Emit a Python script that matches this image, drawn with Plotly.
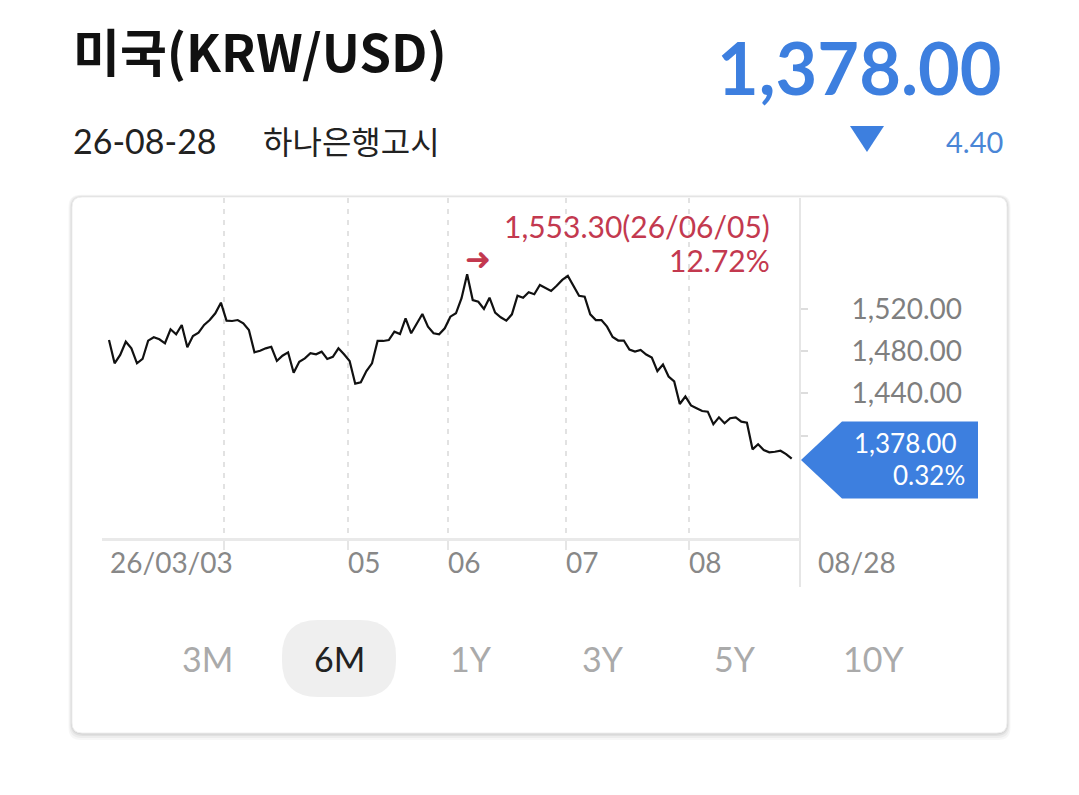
import plotly.graph_objects as go

# the page body has an 8px margin, so the figure is drawn 8px in from the window corner
OFF = 8
W, H = 1079 - OFF, 795 - OFF

# KRW/USD daily rate, 6M view
rates = [
    1490.8, 1468.7, 1476.6, 1489.2, 1482.9, 1468.7, 1472.8, 1490.2, 1493.4, 1491.5,
    1487.7, 1501.0, 1496.2, 1505.1, 1483.9, 1494.6, 1497.8, 1505.1, 1509.8, 1516.2,
    1526.3, 1509.2, 1508.9, 1509.8, 1506.7, 1500.3, 1479.1, 1480.6, 1482.9, 1484.4,
    1470.9, 1475.9, 1479.1, 1459.7, 1470.2, 1473.4, 1478.2, 1477.2, 1479.7, 1472.8,
    1474.9, 1482.9, 1477.2, 1470.9, 1449.3, 1450.6, 1461.3, 1468.7, 1489.9, 1489.9,
    1490.8, 1498.7, 1496.5, 1511.4, 1497.2, 1506.7, 1515.5, 1503.5, 1497.2, 1496.2,
    1501.9, 1513.0, 1516.2, 1530.5, 1553.3, 1528.8, 1527.2, 1520.3, 1531.0, 1516.8,
    1512.4, 1509.2, 1515.2, 1532.9, 1531.0, 1536.2, 1534.3, 1543.1, 1540.0, 1537.4,
    1542.4, 1547.9, 1551.8, 1542.4, 1532.9, 1532.0, 1515.2, 1509.8, 1509.8, 1503.5,
    1493.7, 1490.3, 1490.3, 1481.8, 1479.9, 1481.3, 1477.0, 1474.2, 1461.3, 1467.5,
    1456.1, 1451.4, 1430.0, 1437.1, 1428.6, 1425.9, 1423.3, 1422.7, 1410.7, 1417.3,
    1411.6, 1416.4, 1417.3, 1413.2, 1412.2, 1386.9, 1391.7, 1386.3, 1384.1, 1384.6,
    1385.6, 1382.4, 1378.0,
]
day_index = list(range(len(rates)))

month_pos = [20.55, 42.7, 60.58, 81.67, 103.65]
month_labels = ['26/03/03', '05', '06', '07', '08']
end_label = '08/28'
peak_date = '26/06/05'

y_ticks = [1400, 1440, 1480, 1520]
y_tick_text = ['', '1,440.00', '1,480.00', '1,520.00']

periods = ['3M', '6M', '1Y', '3Y', '5Y', '10Y']
period_x = [207, 339, 471, 603, 735, 873]
active_period = '6M'

BLUE = '#3d7fdf'
RED = '#c3394f'
FONT = 'Lato, Noto Sans CJK KR, sans-serif'


def px(x):
    return (x - OFF) / W


def py(y):
    return 1 - (y - OFF) / H


def rounded(x0, y0, x1, y1, r):
    pts = [('M', x0 + r, y0), ('L', x1 - r, y0), ('Q', x1, y0, x1, y0 + r),
           ('L', x1, y1 - r), ('Q', x1, y1, x1 - r, y1), ('L', x0 + r, y1),
           ('Q', x0, y1, x0, y1 - r), ('L', x0, y0 + r), ('Q', x0, y0, x0 + r, y0)]
    out = ''
    for p in pts:
        cmd, nums = p[0], p[1:]
        coords = []
        for i in range(0, len(nums), 2):
            coords.append('%.5f,%.5f' % (px(nums[i]), py(nums[i + 1])))
        out += cmd + ' '.join(coords) + ' '
    return out + 'Z'


def poly(points):
    return 'M' + ' L'.join('%.5f,%.5f' % (px(a), py(b)) for a, b in points) + ' Z'


fig = go.Figure()
fig.add_trace(go.Scatter(x=day_index, y=rates, mode='lines',
                         line=dict(color='#111111', width=2.2), hoverinfo='skip'))

shapes = []
# card shadow + card
for off, op in [(7, 0.03), (5, 0.04), (3, 0.05), (1.5, 0.06)]:
    shapes.append(dict(type='path', xref='paper', yref='paper', layer='below',
                       path=rounded(72 - off / 2, 197 - off / 3, 1007 + off / 2, 733 + off, 12),
                       fillcolor='rgba(0,0,0,%s)' % op, line=dict(width=0)))
shapes.append(dict(type='path', xref='paper', yref='paper', layer='below',
                   path=rounded(72, 197, 1007, 733, 10),
                   fillcolor='white', line=dict(color='#efefef', width=1)))
# divider between chart and price column
shapes.append(dict(type='line', xref='paper', yref='paper', layer='below',
                   x0=px(800), x1=px(800), y0=py(198), y1=py(587),
                   line=dict(color='#e6e6e6', width=2)))
# active period pill
shapes.append(dict(type='path', xref='paper', yref='paper', layer='below',
                   path=rounded(282, 620, 396, 697, 36),
                   fillcolor='#efefef', line=dict(width=0)))
# current value tag
shapes.append(dict(type='path', xref='paper', yref='paper', layer='above',
                   path=poly([(801, 460), (842, 421.5), (978, 421.5), (978, 498.5), (842, 498.5)]),
                   fillcolor=BLUE, line=dict(width=0)))
# down triangle
shapes.append(dict(type='path', xref='paper', yref='paper',
                   path=poly([(850, 126), (884, 126), (867, 152)]),
                   fillcolor=BLUE, line=dict(width=0)))

ann = []
ann.append(dict(text='<b>미국(KRW/USD)</b>', x=px(71), y=py(50), xanchor='left', yanchor='middle',
                font=dict(size=51, color='#111111', family='Noto Sans CJK KR')))
ann.append(dict(text='<b>1,378.00</b>', x=px(1004), y=py(67), xanchor='right', yanchor='middle',
                font=dict(size=72, color=BLUE, family='Lato')))
ann.append(dict(text='26-08-28', x=px(71), y=py(140), xanchor='left', yanchor='middle',
                font=dict(size=34, color='#222222', family=FONT)))
ann.append(dict(text='하나은행고시', x=px(261), y=py(140), xanchor='left', yanchor='middle',
                font=dict(size=32, color='#222222', family='Noto Sans CJK KR')))
ann.append(dict(text='4.40', x=px(1005), y=py(141), xanchor='right', yanchor='middle',
                font=dict(size=29, color='#4a86d6', family=FONT)))

# x labels
for i, (pos, lab) in enumerate(zip(month_pos, month_labels)):
    ann.append(dict(text=lab, xref='x', yref='paper', x=0 if i == 0 else pos, y=py(562),
                    xanchor='left', yanchor='middle', xshift=-1 if i == 0 else -2,
                    font=dict(size=28, color='#888888', family=FONT)))
ann.append(dict(text=end_label, xref='paper', yref='paper', x=px(816), y=py(562),
                xanchor='left', yanchor='middle', font=dict(size=28, color='#888888', family=FONT)))

# peak marker
peak_i = max(day_index, key=lambda i: rates[i])
peak = rates[peak_i]
last = rates[-1]
ann.append(dict(text='➜', xref='x', yref='y', x=peak_i, y=peak, xanchor='center', yanchor='middle',
                xshift=11, yshift=15, font=dict(size=31, color=RED, family='DejaVu Sans')))
ann.append(dict(text='{:,.2f}({})'.format(peak, peak_date),
                x=px(772), y=py(226), xanchor='right', yanchor='middle',
                font=dict(size=30, color=RED, family=FONT)))
ann.append(dict(text='{:.2f}%'.format((peak - last) / last * 100),
                x=px(772), y=py(260), xanchor='right', yanchor='middle',
                font=dict(size=30, color=RED, family=FONT)))

# current value tag text
prev = rates[-2]
ann.append(dict(text='{:,.2f}'.format(last), x=px(959), y=py(443.5), xanchor='right', yanchor='middle',
                font=dict(size=26, color='white', family=FONT)))
ann.append(dict(text='{:.2f}%'.format((prev - last) / prev * 100), x=px(967), y=py(475),
                xanchor='right', yanchor='middle', font=dict(size=26, color='white', family=FONT)))

# period buttons
for lab, bx in zip(periods, period_x):
    ann.append(dict(text=lab, x=px(bx), y=py(658), xanchor='center', yanchor='middle',
                    font=dict(size=34, color='#222222' if lab == active_period else '#aaaaaa', family=FONT)))

for a in ann:
    a.setdefault('xref', 'paper')
    a.setdefault('yref', 'paper')
    a['showarrow'] = False

step = (791.7 - 109) / (len(rates) - 1)
fig.update_layout(
    width=W, height=H,
    margin=dict(l=0, r=0, t=0, b=0),
    paper_bgcolor='white', plot_bgcolor='rgba(0,0,0,0)',
    showlegend=False,
    shapes=shapes, annotations=ann,
    xaxis=dict(domain=[px(102), px(800)],
               range=[-(109 - 102) / step, len(rates) - 1 + (800 - 791.7) / step],
               tickvals=month_pos, showticklabels=False,
               showgrid=True, gridcolor='#e2e2e2', gridwidth=2, griddash='5px,6px',
               showline=True, linecolor='#e9e9e9', linewidth=3,
               ticks='outside', ticklen=9, tickcolor='#e6e6e6', tickwidth=2,
               zeroline=False, fixedrange=True),
    yaxis=dict(domain=[py(538), py(198)], side='right',
               range=[1302.6, 1625.8],
               tickvals=y_ticks, ticktext=y_tick_text,
               showgrid=False, zeroline=False, showline=False,
               ticks='outside', ticklen=7, tickcolor='#dddddd', tickwidth=2,
               ticklabelstandoff=38,
               tickfont=dict(size=28, color='#7f7f7f', family=FONT),
               fixedrange=True),
)

fig.write_html('out.html')
